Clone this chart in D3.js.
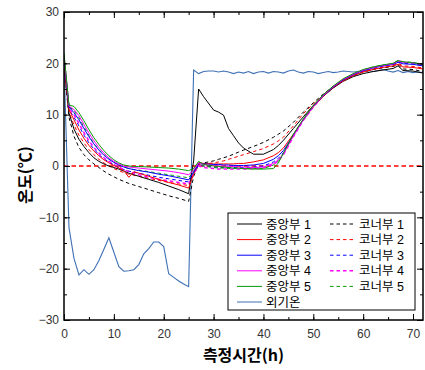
<!DOCTYPE html>
<html><head><meta charset="utf-8">
<script src="https://cdn.jsdelivr.net/npm/d3@7"></script>
<style>
html,body{margin:0;padding:0;background:#fff;}
svg{display:block;}
</style></head>
<body>
<svg id="chart" width="425" height="370"></svg>
<script>
// ---- data ----
const hours = [0,1,2,3,4,5,6,7,8,9,10,11,12,13,14,15,17,19,21,23,25,26,27,28,30,31,32,33,34,35,36,38,40,42,43,44,46,48,50,52,54,56,58,60,62,64,66,67,68,70,72];
const center1 = [20,10.3,7.2,5.2,3.8,2.6,1.6,0.9,0.4,0.0,-0.3,-0.6,-1.0,-1.4,-1.7,-2.0,-2.6,-3.2,-3.9,-4.6,-5.4,1.0,15,13.5,10.9,10.5,9.9,7.3,5.9,4.5,3.5,2.3,2.3,3.2,4.0,5.0,7.3,9.6,11.8,13.6,15.2,16.5,17.4,18.0,18.4,18.7,19.0,19.5,18.6,18.5,18.1];
const center2 = [20,11,9,7,5.4,4.0,2.9,2.0,1.2,0.6,0.1,-0.4,-0.9,-2.2,-1.1,-1.4,-2.0,-2.6,-3.2,-3.7,-4.3,-1.5,0.7,0.5,0.4,0.4,0.4,0.4,0.4,0.5,0.5,0.8,1.2,2.0,2.6,3.5,6.2,9.0,11.5,13.6,15.3,16.6,17.6,18.3,18.8,19.2,19.5,19.8,19.3,19.2,18.9];
const center3 = [21,11.5,10.4,9.0,7.3,5.7,4.3,3.1,2.1,1.3,0.7,0.2,-0.2,-0.5,-0.7,-0.9,-1.2,-1.6,-1.9,-2.3,-2.7,-1.2,0.5,0.4,0.3,0.3,0.2,0.2,0.1,0.1,0.1,0.2,0.5,1.3,2.0,3.0,6.0,9.0,11.6,13.7,15.4,16.8,17.8,18.6,19.1,19.5,19.8,20.2,19.9,19.8,19.5];
const center4 = [21.5,11.7,11.0,9.8,8.1,6.4,4.9,3.6,2.5,1.6,0.9,0.4,0.0,-0.2,-0.3,-0.4,-0.6,-0.8,-1.0,-1.3,-1.7,-0.8,0.6,0.3,0.1,0.0,0.0,-0.1,-0.1,-0.2,-0.2,-0.3,-0.2,0.5,1.2,2.3,5.8,9.0,11.6,13.8,15.5,16.9,17.9,18.7,19.2,19.6,19.9,20.4,20.2,20.1,19.7];
const center5 = [22,11.9,11.6,10.4,8.8,7.1,5.5,4.2,3.0,2.0,1.2,0.6,0.2,0.0,-0.1,-0.1,-0.2,-0.3,-0.4,-0.6,-0.9,-0.5,0.9,0.3,0.0,-0.1,-0.2,-0.3,-0.4,-0.4,-0.5,-0.6,-0.6,-0.5,0.6,2.5,6.2,9.2,11.8,13.9,15.6,17.0,18.0,18.8,19.3,19.7,20.0,20.5,20.3,20.1,19.8];
const corner1 = [19.5,9.5,5.8,3.6,2.2,1.2,0.4,-0.3,-1.0,-1.6,-2.1,-2.6,-3.0,-3.4,-3.7,-4.0,-4.6,-5.2,-5.8,-6.3,-6.9,-2.0,0.3,0.6,1.0,1.3,1.6,1.9,2.3,2.7,3.1,3.8,4.6,5.6,6.2,6.8,8.5,10.5,12.3,14.0,15.5,16.7,17.6,18.3,18.8,19.1,19.4,19.7,18.9,18.8,18.4];
const corner2 = [20,10.5,8.0,6.0,4.5,3.2,2.2,1.3,0.6,0.0,-0.5,-0.9,-1.3,-1.6,-1.8,-2.0,-2.4,-2.8,-3.2,-3.5,-3.8,-1.6,0.3,0.4,0.6,0.8,1.0,1.3,1.6,1.9,2.2,2.8,3.4,4.3,4.9,5.6,7.8,10.2,12.1,13.8,15.3,16.6,17.6,18.4,18.9,19.3,19.6,20.0,19.5,19.4,19.1];
const corner3 = [20.5,11,9.5,7.8,6.0,4.5,3.3,2.2,1.4,0.8,0.2,-0.3,-0.7,-1.0,-1.2,-1.4,-1.8,-2.2,-2.5,-2.8,-3.1,-1.4,0.2,0.0,-0.2,-0.3,-0.3,-0.3,-0.3,-0.3,-0.3,-0.2,0.0,0.8,1.5,2.6,6.0,9.0,11.6,13.7,15.4,16.8,17.8,18.6,19.1,19.5,19.8,20.3,20.0,19.9,19.6];
const corner4 = [21,11.2,10.0,8.3,6.5,4.9,3.6,2.5,1.6,0.9,0.3,-0.2,-0.7,-1.1,-1.4,-1.7,-2.2,-2.6,-2.9,-3.2,-3.5,-1.5,0.0,-0.3,-0.5,-0.6,-0.6,-0.6,-0.6,-0.6,-0.6,-0.5,-0.4,0.3,1.0,2.2,5.7,8.9,11.5,13.7,15.4,16.8,17.8,18.6,19.2,19.6,19.9,20.5,20.2,20.1,19.8];
const corner5 = [21.5,11.6,10.8,9.4,7.6,5.9,4.4,3.2,2.2,1.4,0.7,0.2,-0.2,-0.5,-0.7,-0.8,-1.1,-1.4,-1.7,-2.0,-2.3,-1.0,0.5,0.0,-0.3,-0.4,-0.4,-0.5,-0.5,-0.5,-0.5,-0.5,-0.5,0.2,0.9,2.4,6.0,9.1,11.7,13.8,15.5,16.9,17.9,18.7,19.3,19.7,20.0,20.6,20.3,20.2,19.8];
const outdoorHours = d3.range(0, 73);
const outdoor = [20,-12,-18,-21.2,-20.2,-21.1,-20.2,-18.4,-16.2,-14.0,-16.8,-19.6,-20.5,-20.4,-20.2,-19.2,-17.1,-16.1,-14.8,-14.8,-15.7,-21.0,-21.7,-22.4,-23.0,-23.5,18.7,18.0,18.4,18.5,18.5,18.3,18.5,18.3,18.0,18.3,18.1,18.4,18.0,18.3,18.4,18.1,18.4,18.3,18.1,18.5,18.7,18.3,18.1,18.4,18.3,18.0,18.2,18.4,18.2,18.3,18.5,18.4,18.3,18.4,18.5,18.6,18.4,18.6,18.8,18.5,18.3,18.6,18.2,18.4,18.2,18.3,18.2];

const seriesNames = ["중앙부 1","중앙부 2","중앙부 3","중앙부 4","중앙부 5","코너부 1","코너부 2","코너부 3","코너부 4","코너부 5","외기온"];
const xTicks = [0,10,20,30,40,50,60,70];
const yTicks = [-30,-20,-10,0,10,20,30];
const xTitle = "측정시간(h)";
const yTitle = "온도(℃)";

// ---- styles ----
const colors = ["#000000","#ff0000","#0000ff","#ff00ff","#089a08"];
const outdoorColor = "#3f70b4";
const dash = "3.5,3";

const svg = d3.select("#chart");
const M = {left:64, right:423, top:12, bottom:320};
const x = d3.scaleLinear().domain([0,72]).range([M.left, M.right]);
const y = d3.scaleLinear().domain([-30,30]).range([M.bottom, M.top]);

svg.append("defs").append("clipPath").attr("id","clip")
  .append("rect").attr("x",M.left).attr("y",M.top).attr("width",M.right-M.left).attr("height",M.bottom-M.top);

const plot = svg.append("g").attr("clip-path","url(#clip)");

const line = d3.line().x(d=>x(d[0])).y(d=>y(d[1]));

// zero reference line
plot.append("line").attr("x1",x(0)).attr("x2",x(72)).attr("y1",y(0)).attr("y2",y(0))
  .attr("stroke","#ff0000").attr("stroke-width",1.4).attr("stroke-dasharray","4.5,3");

// outdoor
plot.append("path").datum(outdoorHours.map((h,i)=>[h,outdoor[i]]))
  .attr("d",line).attr("fill","none").attr("stroke",outdoorColor).attr("stroke-width",1.1);

const centers = [center1,center2,center3,center4,center5];
const corners = [corner1,corner2,corner3,corner4,corner5];
corners.forEach((s,k)=>{
  plot.append("path").datum(hours.map((h,i)=>[h,s[i]]))
    .attr("d",line).attr("fill","none").attr("stroke",colors[k])
    .attr("stroke-width",k===3?1.5:1).attr("stroke-dasharray",dash);
});
centers.forEach((s,k)=>{
  plot.append("path").datum(hours.map((h,i)=>[h,s[i]]))
    .attr("d",line).attr("fill","none").attr("stroke",colors[k]).attr("stroke-width",1);
});

// axes
const fontTick = "'Liberation Sans', Arial, sans-serif";
function styleAxis(g, showText){
  g.select(".domain").remove();
  g.selectAll(".tick line").attr("stroke","#000").attr("stroke-width",1);
  g.selectAll(".tick text").attr("fill","#333").style("font-family",fontTick).style("font-size","12px");
  if(!showText) g.selectAll(".tick text").remove();
}
const minorX = d3.range(0,73,5), minorY = d3.range(-30,31,5);
svg.append("g").attr("transform",`translate(0,${M.bottom})`)
  .call(d3.axisBottom(x).tickValues(minorX).tickSize(-3).tickFormat("")).call(g=>styleAxis(g,false));
svg.append("g").attr("transform",`translate(0,${M.top})`)
  .call(d3.axisTop(x).tickValues(minorX).tickSize(-3).tickFormat("")).call(g=>styleAxis(g,false));
svg.append("g").attr("transform",`translate(${M.left},0)`)
  .call(d3.axisLeft(y).tickValues(minorY).tickSize(-3).tickFormat("")).call(g=>styleAxis(g,false));
svg.append("g").attr("transform",`translate(${M.right},0)`)
  .call(d3.axisRight(y).tickValues(minorY).tickSize(-3).tickFormat("")).call(g=>styleAxis(g,false));

svg.append("g").attr("transform",`translate(0,${M.bottom})`)
  .call(d3.axisBottom(x).tickValues(xTicks).tickSize(-6).tickPadding(9)).call(g=>styleAxis(g,true));
svg.append("g").attr("transform",`translate(0,${M.top})`)
  .call(d3.axisTop(x).tickValues(xTicks).tickSize(-6).tickFormat("")).call(g=>styleAxis(g,false));
svg.append("g").attr("transform",`translate(${M.left},0)`)
  .call(d3.axisLeft(y).tickValues(yTicks).tickSize(-6).tickPadding(5)).call(g=>styleAxis(g,true));
svg.append("g").attr("transform",`translate(${M.right},0)`)
  .call(d3.axisRight(y).tickValues(yTicks).tickSize(-6).tickFormat("")).call(g=>styleAxis(g,false));

// frame
svg.append("rect").attr("x",M.left).attr("y",M.top).attr("width",M.right-M.left).attr("height",M.bottom-M.top)
  .attr("fill","none").attr("stroke","#000").attr("stroke-width",1.5);

// titles
const fontKR = "'Noto Sans CJK KR', 'Noto Sans', sans-serif";
svg.append("text").attr("x",(M.left+M.right)/2).attr("y",361).attr("text-anchor","middle")
  .style("font-family",fontKR).style("font-size","16px").style("font-weight","bold").attr("fill","#000").text(xTitle);
svg.append("text").attr("transform","translate(31,175) rotate(-90)").attr("text-anchor","middle")
  .style("font-family",fontKR).style("font-size","16px").style("font-weight","bold").attr("fill","#000").text(yTitle);

// legend (Latin primary font keeps line boxes compact; Hangul falls back to Noto CJK)
const fontLegend = "'Liberation Sans', 'Noto Sans CJK KR', sans-serif";
const lg = svg.append("g");
lg.append("rect").attr("x",228).attr("y",213).attr("width",187).attr("height",97)
  .attr("fill","#fff").attr("stroke","#000").attr("stroke-width",1);
const rowY = i => 224 + i*15.6;
const legendItems = [];
for(let k=0;k<5;k++) legendItems.push({name:seriesNames[k], color:colors[k], dashed:false, col:0, row:k});
for(let k=0;k<5;k++) legendItems.push({name:seriesNames[5+k], color:colors[k], dashed:true, col:1, row:k});
legendItems.push({name:seriesNames[10], color:outdoorColor, dashed:false, col:0, row:5});
legendItems.forEach(it=>{
  const x0 = it.col===0 ? 237 : 330;
  const yy = rowY(it.row);
  lg.append("line").attr("x1",x0).attr("x2",x0+25).attr("y1",yy).attr("y2",yy)
    .attr("stroke",it.color).attr("stroke-width",it.dashed&&it.color==="#ff00ff"?1.5:1)
    .attr("stroke-dasharray",it.dashed?dash:null);
  lg.append("text").attr("x",x0+29).attr("y",yy).attr("dy","0.36em")
    .style("font-family",fontLegend).style("font-size","12.5px").attr("fill","#000").text(it.name);
});
</script>
</body></html>
